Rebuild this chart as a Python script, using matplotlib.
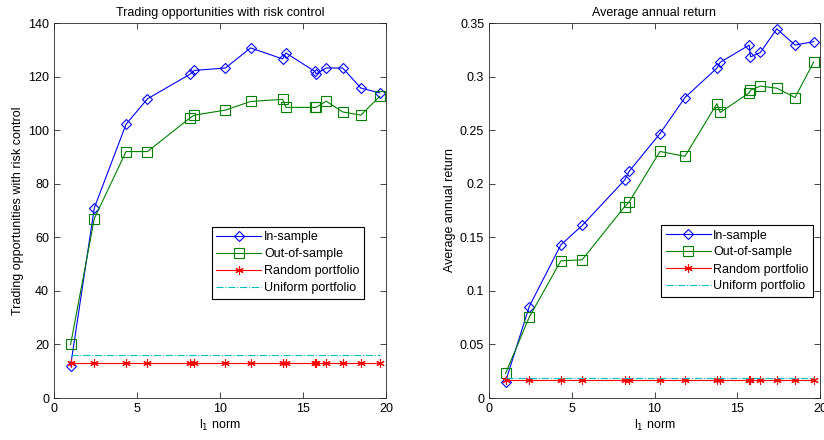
import matplotlib
matplotlib.use("Agg")
import matplotlib.pyplot as plt

plt.rcParams['font.family'] = ['Liberation Sans', 'DejaVu Sans']
plt.rcParams['font.size'] = 9

l1_norm = [1, 2.43, 4.34, 5.63, 8.2, 8.46, 10.33, 11.84, 13.77, 13.97, 15.72, 15.8, 16.4, 17.39, 18.49, 19.62]

opp_in = [12, 71, 102.2, 111.7, 120.9, 122.3, 123.2, 130.7, 126.6, 128.8, 121.9, 121, 123.2, 123.2, 115.7, 113.9]
opp_out = [20, 67, 92, 92, 104.6, 105.6, 107.5, 110.7, 111.5, 108.5, 108.5, 108.5, 110.8, 106.8, 105.6, 112.6]
opp_random = 13.1
opp_uniform = 16.0

ret_in = [0.0152, 0.0853, 0.1429, 0.161, 0.2035, 0.2114, 0.2468, 0.2804, 0.3079, 0.3133, 0.3294, 0.3184, 0.3225, 0.3446, 0.3294, 0.3326]
ret_out = [0.023, 0.0754, 0.128, 0.129, 0.1787, 0.1828, 0.2301, 0.2256, 0.2747, 0.2665, 0.2848, 0.2873, 0.2911, 0.2892, 0.2804, 0.3136]
ret_random = 0.0168
ret_uniform = 0.0184

labels = ['In-sample', 'Out-of-sample', 'Random portfolio', 'Uniform portfolio']
titles = ['Trading opportunities with risk control', 'Average annual return']
ylabels = ['Trading opportunities with risk control', 'Average annual return']

fig = plt.figure(figsize=(8.24, 4.4), dpi=100)
ax1 = fig.add_axes([54/824, 1-398/440, 332/824, 375/440])
ax2 = fig.add_axes([489/824, 1-398/440, 331/824, 375/440])

BLUE = (0, 0, 1)
GREEN = (0, 0.5, 0)
RED = (1, 0, 0)
CYAN = (0, 0.75, 0.75)

def draw(ax, yin, yout, yrand, yuni, ylim, yticks, ytl, title, ylabel, leg_anchor):
    ax.plot(l1_norm, yin, color=BLUE, lw=0.8, marker='D', ms=5.5, mfc='none', mec=BLUE, mew=0.8, label=labels[0])
    ax.plot(l1_norm, yout, color=GREEN, lw=0.8, marker='s', ms=7, mfc='none', mec=GREEN, mew=0.8, label=labels[1])
    ax.plot(l1_norm, [yrand]*len(l1_norm), color=RED, lw=0.8, marker=(6, 2, 0), ms=6, mfc=RED, mec=RED, mew=0.8, label=labels[2])
    ax.plot(l1_norm, [yuni]*len(l1_norm), color=CYAN, lw=0.8, ls='-.', label=labels[3])
    ax.set_xlim(0, 20)
    ax.set_ylim(*ylim)
    ax.set_xticks([0, 5, 10, 15, 20])
    ax.set_yticks(yticks)
    ax.set_yticklabels(ytl)
    ax.tick_params(direction='in', top=True, right=True, length=4, width=0.6, colors='#262626', labelcolor='black', labelsize=9)
    for s in ax.spines.values():
        s.set_linewidth(0.6)
        s.set_color('#262626')
    ax.set_title(title, fontsize=9, pad=5)
    ax.set_ylabel(ylabel, fontsize=9, labelpad=3)
    ax.set_xlabel('l$_1$ norm', fontsize=9, labelpad=2)
    leg = ax.legend(loc='upper left', bbox_to_anchor=leg_anchor, fancybox=False, framealpha=1,
                    edgecolor='black', fontsize=9, handlelength=3.6, borderpad=0.35,
                    labelspacing=0.4, handletextpad=0.2, borderaxespad=0)
    leg.get_frame().set_linewidth(0.8)

draw(ax1, opp_in, opp_out, opp_random, opp_uniform, (0, 140), [0, 20, 40, 60, 80, 100, 120, 140],
     ['0', '20', '40', '60', '80', '100', '120', '140'], titles[0], ylabels[0], (0.476, 0.456))
draw(ax2, ret_in, ret_out, ret_random, ret_uniform, (0, 0.35), [0, 0.05, 0.1, 0.15, 0.2, 0.25, 0.3, 0.35],
     ['0', '0.05', '0.1', '0.15', '0.2', '0.25', '0.3', '0.35'], titles[1], ylabels[1], (0.521, 0.461))

fig.savefig('out.png', dpi=100)
